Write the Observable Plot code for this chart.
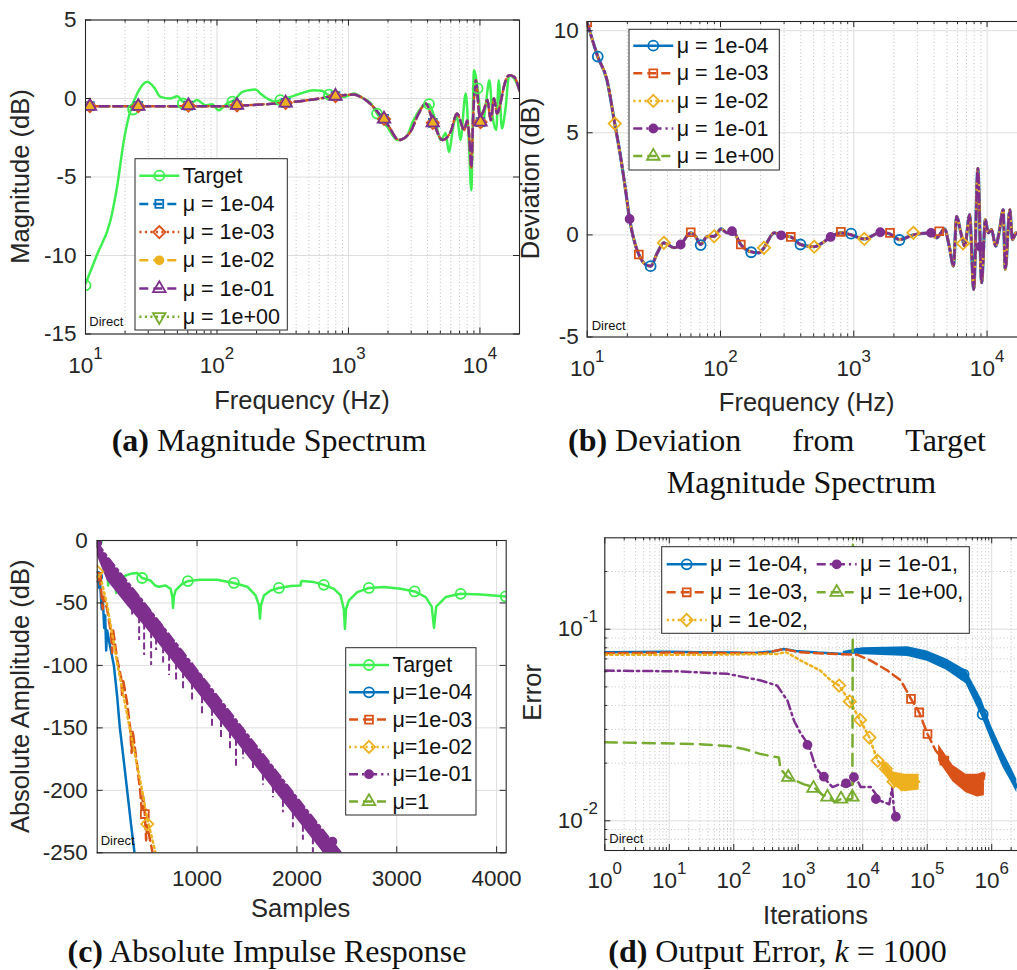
<!DOCTYPE html>
<html><head><meta charset="utf-8">
<script src="https://cdn.jsdelivr.net/npm/d3@7"></script>
<script src="https://cdn.jsdelivr.net/npm/@observablehq/plot@0.6"></script>
<style>
body{margin:0;background:#fff;}
#wrap{position:relative;width:1017px;height:970px;overflow:hidden;background:#fff;font-family:"Liberation Sans",Arial,sans-serif;}
.panel{position:absolute;}
.cap{position:absolute;font-family:"Liberation Serif","Times New Roman",serif;font-size:32px;line-height:32px;color:#111;white-space:nowrap;}
</style></head><body><div id="wrap"></div><script>
// ---------- Panel (a): Magnitude spectrum ----------
const aTarget = [[10,-11.8],[12.3,-9.9],[15.5,-7.75],[17.4,-5.6],[19.6,-2.65],[22,-0.75],[24.7,0.3],[29.5,1.06],[33,0.74],[37.2,0.1],[44,0],[50,0.15],[55,-0.2],[63,-0.3],[70.5,-0.1],[82,-0.43],[92,-0.36],[103,-0.75],[120,-0.3],[135,-0.1],[156,0.42],[175,0.53],[197,0.57],[214,0.32],[241,0],[280,-0.2],[303,-0.1],[362,0.1],[433,0.32],[545,0.53],[630,0.5],[711,0.2],[800,0.2],[925,0.1],[1100,0.32],[1300,0],[1480,-0.3],[1650,-0.96],[1970,-1.8],[2360,-2.65],[2740,-2.45],[3130,-1.38],[3630,-0.54],[4100,-0.36],[4500,-1.17],[5050,-2.65],[5500,-2.2],[5800,-3.4],[6330,-1.6],[6700,-1.17],[7100,-2.65],[7800,0.32],[8250,-2.87],[8600,-5.85],[9000,1.8],[9600,0.64],[10400,-1.8],[11100,-0.32],[11800,1.16],[12500,-1.17],[13300,-2.0],[13900,1.16],[14700,-1.9],[15600,-0.75],[16700,1.48],[18200,1.27],[20000,0.53]];
const aTargetMarks = [[10,-11.9],[23,-0.7],[55,-0.32],[131,-0.2],[303,-0.1],[711,0.25],[1650,-0.96],[4100,-0.36],[9600,0.64]];
const aMu = [[10,-0.5],[20,-0.5],[50,-0.5],[100,-0.5],[150,-0.45],[200,-0.4],[300,-0.3],[500,-0.1],[800,0.15],[1100,0.25],[1240,0.1],[1450,-0.3],[1760,-1.1],[2000,-1.7],[2420,-2.65],[2970,-2.1],[3400,-1.0],[3870,-0.32],[4370,-1.38],[5200,-2.65],[6000,-2.1],[6700,-0.96],[7600,-2.0],[8000,-1.4],[8300,-2.5],[8600,-4.4],[8900,-1.0],[9300,1.16],[10000,-1.17],[10700,-0.75],[11400,-0.1],[12100,-1.38],[12800,0],[13500,-0.96],[14500,-0.1],[15000,0.53],[16700,1.48],[18200,1.38],[20000,0.5]];
const aMuMarks = [[10.8,-0.49],[25.2,-0.49],[60.6,-0.45],[142,-0.43],[333,-0.28],[797,0.15],[1865,-1.3],[4380,-1.55],[10100,-1.5]];
const aXTicks = [10,100,1000,10000];
const aYTicks = [-15,-10,-5,0,5];

// ---------- Panel (b): deviation ----------
const bDev = [[10,10.4],[12,8.73],[14.1,7.56],[16.1,5.45],[17.8,3.83],[19.4,2.2],[20.8,0.78],[22.4,-0.23],[24.4,-0.96],[27.4,-1.45],[29.9,-1.53],[33.6,-0.88],[37.6,-0.39],[44.8,-0.63],[50.3,-0.47],[59.8,0.1],[65,-0.07],[71,-0.47],[79.7,-0.07],[89.6,-0.07],[101,0.29],[112,0.1],[123,0.18],[142,-0.47],[164,-0.8],[195,-0.88],[212,-0.63],[253,0.1],[291,-0.03],[337,-0.1],[398,-0.47],[505,-0.58],[582,-0.39],[670,-0.1],[800,0.1],[950,0.01],[1200,-0.2],[1600,0.13],[1850,0.06],[2200,-0.23],[2820,0.01],[3800,0.1],[4170,-0.15],[4800,0.29],[5200,-0.55],[5600,-1.53],[5900,0.9],[6360,0.1],[6800,-0.55],[7400,0.99],[7940,-2.67],[8530,3.26],[9100,-2.34],[9700,0.75],[10200,0.1],[10800,0.26],[11600,-0.55],[12300,0.1],[13200,1.23],[13700,-1.69],[14800,1.23],[15500,-0.23],[16500,0.1],[17200,0],[20000,0]];
const bBlueMarks = [[12,8.73],[29.9,-1.53],[71,-0.5],[170,-0.85],[398,-0.47],[955,0.06],[2200,-0.25]];
const bOrangeMarks = [[10,10.4],[24.4,-0.96],[59.8,0.13],[142,-0.47],[337,-0.1],[800,0.15],[1870,0.1],[4370,0.18]];
const bYellowMarks = [[16.1,5.45],[37.6,-0.39],[89.6,-0.07],[212,-0.63],[505,-0.58],[1200,-0.2],[2800,0.1],[6600,-0.42]];
const bPurpleMarks = [[20.8,0.78],[50.3,-0.47],[122,0.18],[285,-0.02],[670,-0.1],[1580,0.13],[3800,0.1],[8900,-0.58]];
const bXTicks = [10,100,1000,10000];
const bYTicks = [-5,0,5,10];

// ---------- Panel (c): absolute impulse response ----------
const cTarget = [[0,0],[15,-10],[33,-16],[80,-20],[100,-22],[110,-36],[120,-23],[133,-24],[180,-28],[190,-42],[200,-30],[233,-32],[260,-30],[284,-28],[334,-26.7],[400,-26],[450,-30],[534,-32],[580,-36],[617,-37],[685,-36],[735,-38.7],[752,-45],[760,-54],[768,-45],[785,-40],[850,-34.7],[908,-32.5],[1035,-31.5],[1202,-31.5],[1369,-34],[1503,-37],[1586,-44],[1620,-52],[1630,-62.6],[1640,-52],[1670,-44],[1736,-40],[1820,-38],[1937,-36.5],[2037,-36],[2040,-33],[2054,-32.5],[2170,-33.3],[2270,-35.5],[2371,-38.7],[2438,-44],[2470,-55],[2481,-70.7],[2492,-55],[2521,-48],[2605,-41.3],[2721,-38],[2872,-37.3],[3039,-38.7],[3179,-40.8],[3290,-45.3],[3350,-53],[3373,-70],[3395,-53],[3490,-45.3],[3640,-42.7],[3841,-43.3],[4091,-44.8]];
const cTargetMarks = [[0,0],[450,-30],[908,-32.5],[1369,-34],[1820,-38],[2270,-35.5],[2721,-38],[3179,-40.8],[3640,-42.7],[4091,-44.8]];
const cBlue = [[0,-29],[10,-27],[20,-38],[30,-35],[45,-55],[55,-45],[70,-70],[80,-60],[90,-88],[100,-72],[130,-85],[167,-100],[200,-125],[227,-150],[260,-172],[300,-200],[340,-228],[374,-250],[380,-260]];
const cBlueMarks = [[0,-29]];
const cOrange = [[0,-29],[20,-30],[40,-40],[55,-55],[65,-45],[100,-55],[140,-75],[150,-90],[160,-72],[200,-95],[240,-110],[250,-125],[260,-112],[300,-130],[330,-150],[345,-170],[355,-152],[400,-180],[430,-200],[445,-215],[460,-205],[477,-219],[490,-240],[500,-228],[530,-240],[555,-250],[560,-260]];
const cOrangeMarks = [[0,-29],[477,-219]];
const cYellow = [[0,-25],[30,-28],[100,-52],[200,-98],[325,-150],[450,-200],[500,-222],[584,-250],[590,-255]];
const cYellowMarks = [[0,-25],[501,-227]];
const cPurpleBand = [[0,-2,-12],[100,-13,-32],[300,-33,-52],[500,-53,-71],[1000,-104,-121],[1500,-155,-172],[2000,-206,-223],[2440,-250,-268]];
const cPurpleSpikes = [[350,-38,-62],[420,-45,-80],[470,-50,-92],[540,-57,-100],[590,-62,-88],[660,-69,-98],[720,-75,-108],[790,-82,-112],[860,-89,-120],[950,-98,-130],[1050,-109,-140],[1150,-119,-150],[1240,-128,-160],[1330,-137,-168],[1390,-143,-183],[1460,-150,-175],[1560,-161,-185],[1660,-171,-196],[1760,-181,-206],[1860,-192,-218],[1960,-202,-230],[2060,-212,-240],[2160,-222,-250],[2260,-232,-250],[2350,-241,-250]];
const cPurpleMarks = [[0,-2],[1000,-109],[2355,-241]];
const cXTicks = [1000,2000,3000,4000];
const cYTicks = [-250,-200,-150,-100,-50,0];

// ---------- Panel (d): output error ----------
const dBlue = [[1,0.0758],[3,0.076],[10,0.0762],[30,0.0758],[100,0.0755],[200,0.0752],[400,0.0765],[600,0.0789],[900,0.077],[2000,0.0755],[5100,0.0743],[8300,0.0789],[12000,0.076],[20000,0.0768],[50000,0.0774],[80000,0.0745],[115000,0.0714],[236000,0.0633],[374000,0.0585],[500000,0.05],[680000,0.0391],[1000000,0.0284],[1400000,0.0214],[2000000,0.0176],[2450000,0.015]];
const dBlueBand = [[5000,0.0745,0.0765],[10000,0.0735,0.08],[50000,0.072,0.081],[100000,0.068,0.077],[200000,0.061,0.07],[400000,0.052,0.061],[700000,0.035,0.043],[1000000,0.026,0.031],[1500000,0.019,0.023],[2000000,0.016,0.019],[2450000,0.014,0.0165]];
const dBlueMarks = [[367000,0.058],[724000,0.036]];
const dOrange = [[1,0.075],[10,0.0755],[100,0.0752],[300,0.075],[600,0.0789],[1000,0.076],[3000,0.0745],[8300,0.0735],[13300,0.0686],[24300,0.0608],[39000,0.054],[56000,0.0433],[75000,0.0368],[101000,0.0284],[136000,0.0232],[184000,0.0206],[263000,0.0176],[375000,0.0156],[640000,0.015],[700000,0.014],[770000,0.0176]];
const dOrangeBand = [[150000,0.0205,0.025],[250000,0.016,0.0195],[400000,0.014,0.0175],[600000,0.0133,0.0175],[770000,0.0135,0.018]];
const dOrangeMarks = [[56000,0.0433],[75000,0.0368],[101000,0.0284],[184000,0.0206]];
const dYellow = [[1,0.0735],[30,0.0735],[470,0.0743],[640,0.076],[1100,0.0686],[2200,0.0608],[3200,0.054],[4300,0.0508],[6300,0.042],[9100,0.0336],[12700,0.0272],[17000,0.0206],[22800,0.0187],[30900,0.0165],[39000,0.0156],[56000,0.0162],[75000,0.016]];
const dYellowBand = [[20000,0.018,0.021],[30000,0.0152,0.018],[45000,0.0142,0.0175],[75000,0.0145,0.0175]];
const dYellowMarks = [[4300,0.0508],[6300,0.042],[9100,0.0336],[12700,0.0272],[17000,0.0206],[22800,0.0187],[30000,0.016],[40000,0.0155]];
const dPurple = [[1,0.0608],[13,0.0603],[80,0.0585],[263,0.054],[470,0.0508],[680,0.0424],[860,0.0333],[1100,0.0284],[1440,0.025],[1860,0.019],[2450,0.0169],[3400,0.015],[4300,0.0155],[5500,0.015],[6900,0.0155],[7800,0.0169],[9300,0.015],[13300,0.015],[19000,0.0127],[25800,0.0122],[28500,0.0148],[30500,0.0115],[32600,0.0105]];
const dPurpleMarks = [[1390,0.0249],[2500,0.017],[5500,0.0157],[7300,0.0169],[16000,0.013],[32600,0.0105]];
const dGreen = [[1,0.0257],[24,0.0252],[80,0.0246],[145,0.0237],[262,0.0223],[500,0.0214],[530,0.0187],[680,0.0169],[1230,0.0155],[1730,0.015],[2400,0.0136],[3000,0.0134],[3650,0.0125],[4600,0.013],[5500,0.0128],[6900,0.0131],[7100,1]];
const dGreenMarks = [[700,0.0169],[1720,0.0148],[2840,0.0133],[4600,0.013],[6900,0.0133]];
const dXTicks = [1,10,100,1000,10000,100000,1000000];
const dYTicks = [0.01,0.1];

const legA = ["Target","μ = 1e-04","μ = 1e-03","μ = 1e-02","μ = 1e-01","μ = 1e+00"];
const legB = ["μ = 1e-04","μ = 1e-03","μ = 1e-02","μ = 1e-01","μ = 1e+00"];
const legC = ["Target","μ=1e-04","μ=1e-03","μ=1e-02","μ=1e-01","μ=1"];
const legD = ["μ = 1e-04,","μ = 1e-03,","μ = 1e-02,","μ = 1e-01,","μ = 1e+00,"];

// ---------- styles ----------
const COL = {blue:"#0072BD", orange:"#D95319", yellow:"#EDB120", purple:"#7E2F8E", green:"#77AC30", target:"#3DF050"};
const DASH = {solid:null, dashed:"9,5", dotted:"2.2,3.3", dashdot:"9,4,2.2,4", long:"12,7"};
const LW = 2.5;
const stA = [
  {c:COL.target, d:"solid", s:"circle", f:false, r:5},
  {c:COL.blue, d:"dashed", s:"square", f:false, r:5},
  {c:COL.orange, d:"dotted", s:"diamond", f:false, r:5.5},
  {c:COL.yellow, d:"dashed", s:"dot", f:true, r:4},
  {c:COL.purple, d:"dashed", s:"triangle", f:false, r:6},
  {c:COL.green, d:"dotted", s:"tridown", f:false, r:6}];
const stM = [
  {c:COL.blue, d:"solid", s:"circle", f:false, r:5},
  {c:COL.orange, d:"dashed", s:"square", f:false, r:5},
  {c:COL.yellow, d:"dotted", s:"diamond", f:false, r:5.5},
  {c:COL.purple, d:"dashdot", s:"dot", f:true, r:4},
  {c:COL.green, d:"dashed", s:"triangle", f:false, r:6}];
const stTarget = {c:COL.target, d:"solid", s:"circle", f:false, r:5};
const PSYM = {circle:"circle", square:"square2", diamond:"diamond2", triangle:"triangle2", dot:"circle"};

const X = d => d[0], Y = d => d[1];
function line(data, st, extra={}) {
  return Plot.line(data, {x:X, y:Y, stroke:st.c, strokeWidth:LW, strokeDasharray:DASH[st.d], clip:true, ...extra});
}
function marks(data, st) {
  return Plot.dot(data, {x:X, y:Y, symbol:PSYM[st.s], r:st.r, stroke:st.c, strokeWidth:1.8, fill:st.f?st.c:"none", clip:true});
}
function minorLog(lo, hi) {
  const out = [];
  for (let e = Math.floor(Math.log10(lo)); e <= Math.ceil(Math.log10(hi)); e++)
    for (let k = 2; k <= 9; k++) { const v = k * Math.pow(10, e); if (v > lo * 1.0001 && v < hi * 0.9999) out.push(v); }
  return out;
}
const pow = d => "10^" + Math.round(Math.log10(d));
const num = d => String(d);

const wrap = d3.select("#wrap");
function panel(cfg) {
  const ph = cfg.height - cfg.mt - cfg.mb, pw = cfg.width - cfg.ml - cfg.mr;
  const m = [];
  if (cfg.xMinor) m.push(Plot.ruleX(cfg.xMinor, {x:d=>d, stroke:"#8c8c8c", strokeOpacity:0.55, strokeDasharray:"1,2.5"}));
  if (cfg.yMinor) m.push(Plot.ruleY(cfg.yMinor, {y:d=>d, stroke:"#8c8c8c", strokeOpacity:0.55, strokeDasharray:"1,2.5"}));
  m.push(Plot.ruleX(cfg.xTicks, {x:d=>d, stroke:"#dedede"}));
  m.push(Plot.ruleY(cfg.yTicks, {y:d=>d, stroke:"#dedede"}));
  m.push(...cfg.marks);
  m.push(Plot.tickX(cfg.xTicks, {x:d=>d, insetTop:ph-6, stroke:"#262626"}));
  m.push(Plot.tickX(cfg.xTicks, {x:d=>d, insetBottom:ph-6, stroke:"#262626"}));
  m.push(Plot.tickY(cfg.yTicks, {y:d=>d, insetRight:pw-6, stroke:"#262626"}));
  m.push(Plot.tickY(cfg.yTicks, {y:d=>d, insetLeft:pw-6, stroke:"#262626"}));
  if (cfg.xMinor) { m.push(Plot.tickX(cfg.xMinor, {x:d=>d, insetTop:ph-3, stroke:"#262626"})); m.push(Plot.tickX(cfg.xMinor, {x:d=>d, insetBottom:ph-3, stroke:"#262626"})); }
  if (cfg.yMinor) { m.push(Plot.tickY(cfg.yMinor, {y:d=>d, insetRight:pw-3, stroke:"#262626"})); }
  m.push(Plot.frame({stroke:"#262626", strokeWidth:1.1}));
  m.push(Plot.axisX(cfg.xTicks, {tickSize:0, tickPadding:cfg.xPad, tickFormat:cfg.xFmt, label:null}));
  m.push(Plot.axisY(cfg.yTicks, {tickSize:0, tickPadding:cfg.yPad, tickFormat:cfg.yFmt, label:null}));
  const svg = Plot.plot({
    width:cfg.width, height:cfg.height,
    marginLeft:cfg.ml, marginRight:cfg.mr, marginTop:cfg.mt, marginBottom:cfg.mb,
    x:cfg.x, y:cfg.y, marks:m,
    style:{fontFamily:'"Liberation Sans", Arial, sans-serif', fontSize:"22.5px", color:"#262626", background:"transparent", maxWidth:"none", overflow:"visible"}
  });
  d3.select(svg).selectAll("text").each(function(){
    const mm = /^10\^(-?\d+)$/.exec(this.textContent);
    if (mm) { const s = d3.select(this); s.text("10"); s.append("tspan").attr("dy","-0.85em").attr("font-size","0.75em").text(mm[1]); }
  });
  wrap.append("div").attr("class","panel").style("left",cfg.left+"px").style("top",cfg.top+"px").style("width",cfg.width+"px").node().appendChild(svg);
}

// (a)
panel({left:0, top:0, width:520, height:420, ml:85, mr:1, mt:19.5, mb:86.5,
  x:{type:"log", domain:[10,20000]}, y:{domain:[-15,5]},
  xTicks:aXTicks, yTicks:aYTicks, xMinor:minorLog(10,20000), xFmt:pow, yFmt:num, xPad:23, yPad:9,
  marks:[
    line(aTarget, stTarget, {curve:"monotone-x"}),
    line(aMu, stA[1], {curve:"monotone-x"}),
    line(aMu, stA[2], {curve:"monotone-x"}),
    line(aMu, stA[3], {curve:"monotone-x"}),
    line(aMu, stA[4], {curve:"monotone-x"}),
    marks(aTargetMarks, stTarget),
    marks(aMuMarks, stA[1]), marks(aMuMarks, stA[2]), marks(aMuMarks, stA[3]), marks(aMuMarks, stA[4])
  ]});

// (b)
panel({left:510, top:0, width:520, height:420, ml:76.7, mr:3.3, mt:21, mb:83.5,
  x:{type:"log", domain:[10,20000]}, y:{domain:[-5,10.45]},
  xTicks:bXTicks, yTicks:bYTicks, xMinor:minorLog(10,20000), xFmt:pow, yFmt:num, xPad:23, yPad:8.4,
  marks:[
    line(bDev, stM[0], {curve:"monotone-x", strokeWidth:3.2}),
    line(bDev, stM[1], {curve:"monotone-x"}),
    line(bDev, stM[2], {curve:"monotone-x"}),
    line(bDev, stM[3], {curve:"monotone-x"}),
    marks(bBlueMarks, stM[0]), marks(bOrangeMarks, stM[1]), marks(bYellowMarks, stM[2]), marks(bPurpleMarks, stM[3])
  ]});

// (c)
panel({left:0, top:520, width:520, height:450, ml:96.7, mr:14.3, mt:20, mb:117.7,
  x:{domain:[0,4096]}, y:{domain:[-250,0]},
  xTicks:cXTicks, yTicks:cYTicks, xFmt:num, yFmt:num, xPad:17, yPad:9.4,
  marks:[
    line(cTarget, stTarget),
    line(cBlue, stM[0]),
    line(cOrange, stM[1]),
    line(cYellow, stM[2]),
    Plot.areaY(cPurpleBand, {x:d=>d[0], y1:d=>d[1], y2:d=>d[2], fill:COL.purple, clip:true}),
    Plot.ruleX(cPurpleSpikes, {x:d=>d[0], y1:d=>d[1], y2:d=>d[2], stroke:COL.purple, strokeWidth:2, strokeDasharray:"7,3", clip:true}),
    line(cPurpleBand, stM[3], {y:d=>d[1]}),
    marks(cTargetMarks, stTarget), marks(cBlueMarks, stM[0]), marks(cOrangeMarks, stM[1]), marks(cYellowMarks, stM[2]), marks(cPurpleMarks, stM[3])
  ]});

// (d)
panel({left:510, top:520, width:520, height:450, ml:94.3, mr:3.7, mt:17.3, mb:120,
  x:{type:"log", domain:[1,3.5e6]}, y:{type:"log", domain:[0.007,0.3]},
  xTicks:dXTicks, yTicks:dYTicks, xMinor:minorLog(1,3.5e6), yMinor:minorLog(0.007,0.3), xFmt:pow, yFmt:pow, xPad:22, yPad:7,
  marks:[
    Plot.areaY(dBlueBand, {x:d=>d[0], y1:d=>d[1], y2:d=>d[2], fill:COL.blue, clip:true}),
    line(dBlue, stM[0]),
    Plot.areaY(dOrangeBand, {x:d=>d[0], y1:d=>d[1], y2:d=>d[2], fill:COL.orange, clip:true}),
    line(dOrange, stM[1]),
    Plot.areaY(dYellowBand, {x:d=>d[0], y1:d=>d[1], y2:d=>d[2], fill:COL.yellow, clip:true}),
    line(dYellow, stM[2]),
    line(dPurple, stM[3]),
    line(dGreen, stM[4], {strokeDasharray:DASH.long}),
    marks(dBlueMarks, stM[0]), marks(dOrangeMarks, stM[1]), marks(dYellowMarks, stM[2]), marks(dPurpleMarks, stM[3]), marks(dGreenMarks, stM[4])
  ]});

// ---------- overlay: axis labels, legends, notes ----------
const ov = wrap.append("svg").attr("width",1017).attr("height",970)
  .style("position","absolute").style("left","0px").style("top","0px")
  .style("font-family",'"Liberation Sans", Arial, sans-serif').attr("fill","#262626");
function hLabel(t, x, y) { ov.append("text").attr("x",x).attr("y",y).attr("text-anchor","middle").attr("font-size",25.5).text(t); }
function vLabel(t, x, y) { ov.append("text").attr("transform",`translate(${x},${y}) rotate(-90)`).attr("text-anchor","middle").attr("font-size",25.5).text(t); }
hLabel("Frequency (Hz)", 302, 409.3);
vLabel("Magnitude (dB)", 28.5, 176.5);
hLabel("Frequency (Hz)", 806.7, 410.7);
vLabel("Deviation (dB)", 538.5, 178.5);
hLabel("Samples", 300.7, 917.3);
vLabel("Absolute Amplitude (dB)", 28.5, 696.3);
hLabel("Iterations", 815.5, 924);
vLabel("Error", 541, 692.3);
[[89.3,321.7],[591.7,325],[100.7,840.7],[609.3,838.3]].forEach(p =>
  ov.append("text").attr("x",p[0]).attr("y",p[1]).attr("dominant-baseline","central").attr("font-size",13).attr("fill","#111").text("Direct"));

const SYM = {circle:d3.symbolCircle, square:d3.symbolSquare2, diamond:d3.symbolDiamond2, triangle:d3.symbolTriangle2, tridown:d3.symbolTriangle2, dot:d3.symbolCircle};
function legend(box, items) {
  ov.append("rect").attr("x",box[0]).attr("y",box[1]).attr("width",box[2]-box[0]).attr("height",box[3]-box[1])
    .attr("fill","white").attr("stroke","#262626").attr("stroke-width",1);
  items.forEach(it => {
    const st = it.st;
    ov.append("line").attr("x1",it.x).attr("x2",it.x+40).attr("y1",it.y).attr("y2",it.y)
      .attr("stroke",st.c).attr("stroke-width",LW).attr("stroke-dasharray",DASH[st.d]);
    ov.append("path").attr("d", d3.symbol(SYM[st.s], Math.PI*st.r*st.r)())
      .attr("transform",`translate(${it.x+20},${it.y})${st.s==="tridown"?" rotate(180)":""}`)
      .attr("fill", st.f ? st.c : "none").attr("stroke", st.c).attr("stroke-width",1.8);
    ov.append("text").attr("x",it.x+43.4).attr("y",it.y).attr("dominant-baseline","central")
      .attr("font-size",21.5).attr("fill","#111").text(it.label);
  });
}
legend([135,158.7,287.3,330], legA.map((l,i)=>({label:l, st:stA[i], x:139.3, y:175.7+28.2*i})));
legend([629,29.3,779.3,170], legB.map((l,i)=>({label:l, st:stM[i], x:633.3, y:45.7+27.6*i})));
legend([345.7,647.7,476,815], legC.map((l,i)=>({label:l, st:i===0?stTarget:stM[i-1], x:349, y:665+27.3*i})));
legend([661.7,546.7,969.3,633.3], legD.map((l,i)=>({label:l, st:stM[i], x:i<3?666.7:816.7, y:[564.3,592.3,620][i<3?i:i-3]})));

// ---------- captions ----------
wrap.append("div").attr("class","cap").style("left","269px").style("top","424px").style("transform","translateX(-50%)")
  .html("<b>(a)</b> Magnitude Spectrum");
wrap.append("div").attr("class","cap").style("left","568px").style("top","424px").style("width","418px")
  .style("display","flex").style("justify-content","space-between")
  .html("<span><b>(b)</b> Deviation</span><span>from</span><span>Target</span>");
wrap.append("div").attr("class","cap").style("left","801.5px").style("top","466px").style("transform","translateX(-50%)")
  .html("Magnitude Spectrum");
wrap.append("div").attr("class","cap").style("left","267px").style("top","935px").style("transform","translateX(-50%)")
  .html("<b>(c)</b> Absolute Impulse Response");
wrap.append("div").attr("class","cap").style("left","777.5px").style("top","935px").style("transform","translateX(-50%)")
  .html("<b>(d)</b> Output Error, <i>k</i> = 1000");
</script></body></html>
